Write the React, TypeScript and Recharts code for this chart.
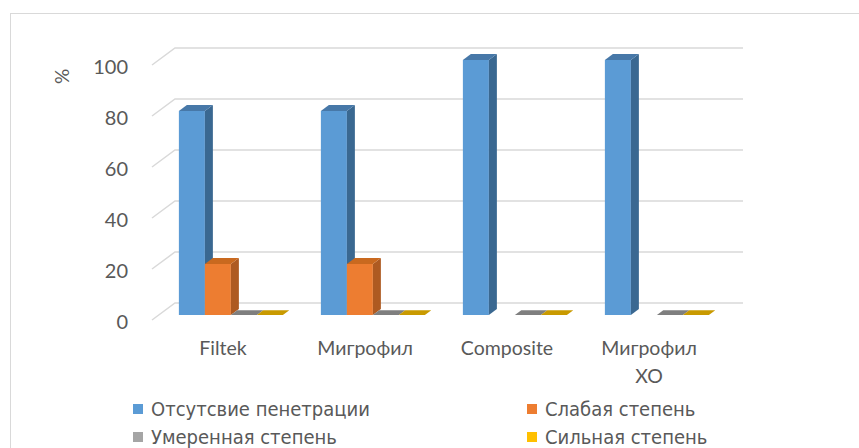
import React from 'react'
import { BarChart, Bar, XAxis, YAxis, CartesianGrid, Text } from 'recharts'

const categories = ['Filtek', 'Мигрофил', 'Composite', 'Мигрофил XO']
const noPenetration = [80, 80, 100, 100]
const weak = [20, 20, null, null]
const moderate = [0, 0, 0, 0]
const strong = [0, 0, 0, 0]
const yTicks = [0, 20, 40, 60, 80, 100]

const series = [
  { key: 'none', name: 'Отсутсвие пенетрации', front: '#5B9BD5', side: '#3A6891', top: '#4778A8' },
  { key: 'weak', name: 'Слабая степень', front: '#ED7D31', side: '#AE5A21', top: '#C9691F' },
  { key: 'moderate', name: 'Умеренная степень', front: '#A5A5A5', side: '#6E6E6E', top: '#7F7F7F' },
  { key: 'strong', name: 'Сильная степень', front: '#FFC000', side: '#B58900', top: '#C99A00' },
]

const data = categories.map((c, i) => ({
  name: c,
  none: noPenetration[i],
  weak: weak[i],
  moderate: moderate[i],
  strong: strong[i],
}))

// wall depth and bar depth offsets for the 3d look
const WALL_DX = 23
const WALL_DY = -17
const BAR_SHIFT_X = 7
const BAR_SHIFT_Y = -5
const BAR_DX = 8
const BAR_DY = -6

const axisFont = "Lato, 'Open Sans', sans-serif"
const legendFont = "'Liberation Sans Narrow', 'DejaVu Sans Condensed', Lato, sans-serif"

function Bar3D(props: any) {
  const { x, y, width, height, colors, value } = props
  if (value == null) return null
  const x0 = x + BAR_SHIFT_X
  const y0 = y + BAR_SHIFT_Y
  const h = Math.max(height, 0)
  if (h < 0.5) {
    // zero value: only the lid is visible
    return (
      <polygon
        points={`${x0},${y0} ${x0 + width},${y0} ${x0 + width + BAR_DX * 0.8},${y0 + BAR_DY * 0.8} ${x0 + BAR_DX * 0.8},${y0 + BAR_DY * 0.8}`}
        fill={colors.top}
      />
    )
  }
  return (
    <g>
      <rect x={x0} y={y0} width={width} height={h} fill={colors.front} />
      <polygon
        points={`${x0 + width},${y0} ${x0 + width + BAR_DX},${y0 + BAR_DY} ${x0 + width + BAR_DX},${y0 + h + BAR_DY} ${x0 + width},${y0 + h}`}
        fill={colors.side}
      />
      <polygon
        points={`${x0},${y0} ${x0 + BAR_DX},${y0 + BAR_DY} ${x0 + width + BAR_DX},${y0 + BAR_DY} ${x0 + width},${y0}`}
        fill={colors.top}
      />
    </g>
  )
}

function GridLine(props: any) {
  const { x1, y1, x2 } = props
  return (
    <path
      d={`M${x1},${y1} L${x1 + WALL_DX},${y1 + WALL_DY} L${x2 + WALL_DX},${y1 + WALL_DY}`}
      stroke="#D9D9D9"
      strokeWidth={1.5}
      fill="none"
    />
  )
}

function CategoryTick(props: any) {
  const { x, y, payload } = props
  return (
    <Text
      x={x}
      y={y}
      width={80}
      textAnchor="middle"
      verticalAnchor="start"
      lineHeight={28}
      fill="#595959"
      fontSize={19.5}
      fontFamily={axisFont}
    >
      {payload.value}
    </Text>
  )
}

function LegendBox() {
  const cols = [133, 527]
  return (
    <div style={{ position: 'absolute', left: 0, top: 397, width: 859, height: 60 }}>
      {series.map((s, i) => (
        <div
          key={s.key}
          style={{
            position: 'absolute',
            left: cols[i % 2],
            top: Math.floor(i / 2) * 28,
            display: 'flex',
            alignItems: 'center',
            fontFamily: legendFont,
            fontSize: 20,
            lineHeight: '24px',
            color: '#595959',
            whiteSpace: 'nowrap',
          }}
        >
          <span style={{ width: 10, height: 10, background: s.front, marginRight: 8, display: 'inline-block' }} />
          {s.name}
        </div>
      ))}
    </div>
  )
}

export default function App() {
  return (
    <div style={{ position: 'absolute', left: 0, top: 0, width: 859, height: 448, background: '#fff', overflow: 'hidden' }}>
      <div
        style={{
          position: 'absolute',
          left: 10,
          top: 13,
          width: 900,
          height: 500,
          border: '1.5px solid #D9D9D9',
          boxSizing: 'border-box',
        }}
      />
      <BarChart
        width={859}
        height={448}
        data={data}
        margin={{ top: 65, right: 139, bottom: 98, left: 92 }}
        barCategoryGap="14%"
        barGap={0}
        style={{ position: 'absolute', left: 0, top: 0 }}
      >
        <CartesianGrid vertical={false} horizontal={(p: any) => <GridLine key={p.key ?? p.index} {...p} />} />
        <XAxis
          dataKey="name"
          height={30}
          axisLine={false}
          tickLine={false}
          tickSize={0}
          tickMargin={21}
          interval={0}
          tick={<CategoryTick />}
        />
        <YAxis
          width={60}
          domain={[0, 100]}
          ticks={yTicks}
          axisLine={false}
          tickLine={false}
          tickSize={0}
          tickMargin={24}
          tick={{ fill: '#595959', fontSize: 20, fontFamily: axisFont, dy: 2 }}
          label={{ value: '%', angle: -90, position: 'insideTopLeft', dx: -41, dy: 14, fill: '#595959', fontSize: 19, fontFamily: axisFont }}
        />
        {series.map((s) => (
          <Bar
            key={s.key}
            dataKey={s.key}
            name={s.name}
            fill={s.front}
            isAnimationActive={false}
            shape={(p: any) => <Bar3D {...p} colors={s} />}
          />
        ))}
      </BarChart>
      <LegendBox />
    </div>
  )
}
